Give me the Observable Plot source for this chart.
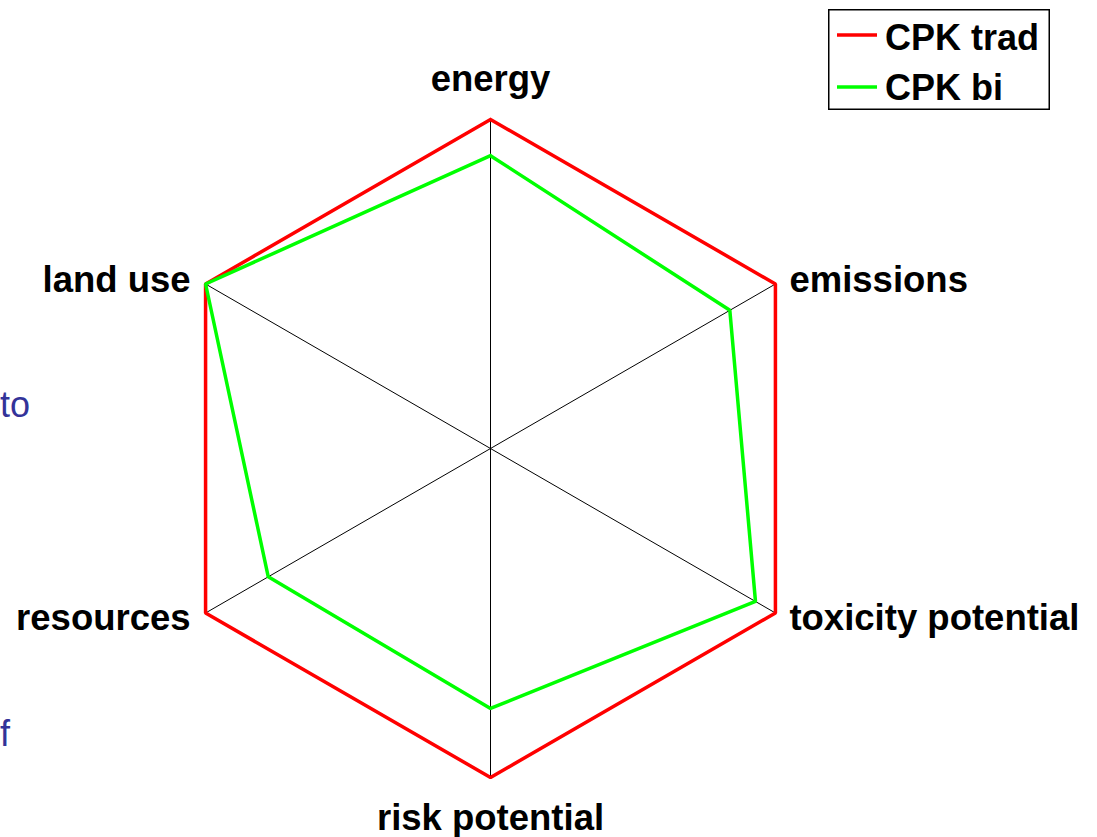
<!DOCTYPE html>
<html>
<head>
<meta charset="utf-8">
<script src="https://cdn.jsdelivr.net/npm/d3@7"></script>
<script src="https://cdn.jsdelivr.net/npm/@observablehq/plot@0.6"></script>
<style>
  html, body { margin: 0; padding: 0; background: #fff; }
  #wrap { position: relative; width: 1097px; height: 837px; overflow: hidden; font-family: "Liberation Sans", Arial, sans-serif; }
  #legend { position: absolute; left: 828px; top: 9px; }
  .stray { position: absolute; color: #333399; font-size: 36px; font-family: "Liberation Sans", Arial, sans-serif; line-height: 52px; }
</style>
</head>
<body>
<div id="wrap"></div>
<script>
// ---- data ----
const axes = ["energy", "emissions", "toxicity potential", "risk potential", "resources", "land use"];
const seriesNames = ["CPK trad", "CPK bi"];
const cpkTrad = [1.0, 1.0, 1.0, 1.0, 1.0, 1.0];
const cpkBi = [0.89, 0.84, 0.93, 0.79, 0.78, 1.0];
const seriesColors = ["#ff0000", "#00ff00"];
const strayTexts = ["to", "f"];

// ---- geometry derived from data ----
const n = axes.length;
const ang = i => (i * 2 * Math.PI) / n;
const pt = (r, i) => ({x: r * Math.sin(ang(i)), y: r * Math.cos(ang(i))});

const spokes = axes.map((a, i) => { const p = pt(1, i); return {axis: a, x1: 0, y1: 0, x2: p.x, y2: p.y}; });
const ring = (vals, name) => [...vals, vals[0]].map((v, k) => ({series: name, ...pt(v, k % n)}));
const tradLine = ring(cpkTrad, seriesNames[0]);
const biLine = ring(cpkBi, seriesNames[1]);
const labels = axes.map((a, i) => ({label: a, i, ...pt(1, i)}));

const W = 1097, H = 837;
const cx = 490, cy = 448, R = 329;

const font = "Liberation Sans, Arial, sans-serif";
const labelStyle = {fontSize: 36.5, fontWeight: "bold", fill: "black", fontFamily: font, lineAnchor: "bottom"};
const pick = ids => labels.filter(d => ids.includes(d.i));

const chart = Plot.plot({
  width: W, height: H,
  margin: 0,
  x: {domain: [-cx / R, (W - cx) / R], axis: null},
  y: {domain: [-(H - cy) / R, cy / R], axis: null},
  marks: [
    Plot.link(spokes, {x1: "x1", y1: "y1", x2: "x2", y2: "y2", stroke: "black", strokeWidth: 1}),
    Plot.line(tradLine, {x: "x", y: "y", stroke: seriesColors[0], strokeWidth: 3.5, strokeLinejoin: "miter"}),
    Plot.line(biLine, {x: "x", y: "y", stroke: seriesColors[1], strokeWidth: 3.5, strokeLinejoin: "miter"}),
    Plot.text(pick([0]), {x: "x", y: "y", text: "label", textAnchor: "middle", dy: -29, ...labelStyle}),
    Plot.text(pick([3]), {x: "x", y: "y", text: "label", textAnchor: "middle", dy: 52, ...labelStyle}),
    Plot.text(pick([1]), {x: "x", y: "y", text: "label", textAnchor: "start", dx: 14, dy: 8, ...labelStyle}),
    Plot.text(pick([2]), {x: "x", y: "y", text: "label", textAnchor: "start", dx: 14, dy: 17, ...labelStyle}),
    Plot.text(pick([5]), {x: "x", y: "y", text: "label", textAnchor: "end", dx: -15, dy: 8, ...labelStyle}),
    Plot.text(pick([4]), {x: "x", y: "y", text: "label", textAnchor: "end", dx: -15, dy: 17, ...labelStyle})
  ]
});
document.getElementById("wrap").appendChild(chart);

// ---- legend ----
const lw = 222, lh = 101;
const svgNS = "http://www.w3.org/2000/svg";
const leg = document.createElementNS(svgNS, "svg");
leg.setAttribute("id", "legend");
leg.setAttribute("width", lw);
leg.setAttribute("height", lh);
leg.innerHTML = `<rect x="0.75" y="0.75" width="${lw - 1.5}" height="${lh - 1.5}" fill="white" stroke="black" stroke-width="1.5"/>` +
  seriesNames.map((s, k) => `
    <line x1="9" x2="49" y1="${26 + k * 52}" y2="${26 + k * 52}" stroke="${seriesColors[k]}" stroke-width="3.5"/>
    <text x="57" y="${41 + k * 50}" font-family="${font}" font-weight="bold" font-size="36">${s}</text>`).join("");
document.getElementById("wrap").appendChild(leg);

// ---- stray text fragments visible at the left edge ----
const strayPos = [{left: 0, top: 379}, {left: 0, top: 708}];
strayTexts.forEach((s, k) => {
  const d = document.createElement("div");
  d.className = "stray";
  d.textContent = s;
  d.style.left = strayPos[k].left + "px";
  d.style.top = strayPos[k].top + "px";
  document.getElementById("wrap").appendChild(d);
});
</script>
</body>
</html>
